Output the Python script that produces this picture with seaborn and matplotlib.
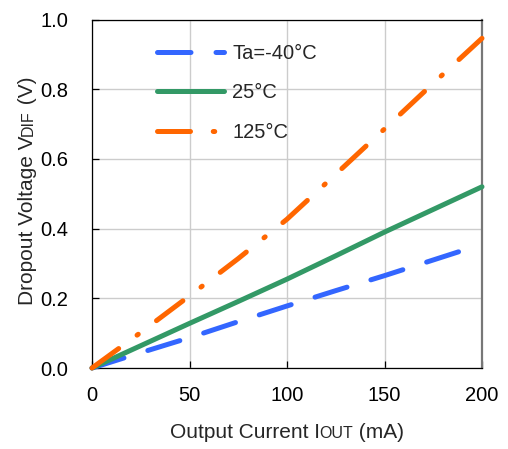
import numpy as np
import pandas as pd
import matplotlib
matplotlib.use("Agg")
import matplotlib.pyplot as plt
import seaborn as sns

# ---- data ----
current_ma = [0, 25, 50, 75, 100, 125, 150, 175, 200]
v_m40 = [0, 0.044, 0.087, 0.133, 0.178, 0.222, 0.265, 0.310, 0.355]
v_25 = [0, 0.064, 0.128, 0.191, 0.255, 0.322, 0.390, 0.455, 0.520]
v_125 = [0, 0.102, 0.207, 0.314, 0.427, 0.556, 0.686, 0.817, 0.946]
series_labels = ["Ta=-40°C", "25°C", "125°C"]
x_ticks = [0, 50, 100, 150, 200]
y_ticks = [0.0, 0.2, 0.4, 0.6, 0.8, 1.0]

sns.set_style("white")
plt.rcParams["font.family"] = ["Liberation Sans", "DejaVu Sans"]

W, H = 508, 449
fig = plt.figure(figsize=(W / 100, H / 100), dpi=100)
ax = fig.add_axes([92 / W, (H - 368) / H, (482 - 92) / W, (368 - 19.5) / H])

lw = 3.6
colors = ["#3366ff", "#339966", "#ff6600"]
styles = [(0, (6.7, 5.0)), "-", (0, (6.6, 4.55, 0.3, 4.55))]
for vals, lab, col, ls in zip([v_m40, v_25, v_125], series_labels, colors, styles):
    df = pd.DataFrame({"I": current_ma, "V": vals})
    sns.lineplot(data=df, x="I", y="V", ax=ax, color=col, linewidth=lw,
                 linestyle=ls, label=lab, dash_capstyle="round",
                 solid_capstyle="round", clip_on=False, zorder=3)

ax.set_xlim(0, 200)
ax.set_ylim(0, 1.0)
ax.set_xticks(x_ticks)
ax.set_yticks(y_ticks)
ax.set_yticklabels([f"{v:.1f}" for v in y_ticks])
ax.set_xticklabels([str(v) for v in x_ticks])
ax.set_xlabel("")
ax.set_ylabel("")
ax.set_axisbelow(True)
ax.grid(True, color="#cccccc", linewidth=1.0)
for s in ["left", "top", "bottom"]:
    ax.spines[s].set_color("black")
    ax.spines[s].set_linewidth(0.9)
    ax.spines[s].set_visible(True)
ax.spines["right"].set_visible(True)
ax.spines["right"].set_color("#777777")
ax.spines["right"].set_linewidth(1.6)
ax.tick_params(axis="both", direction="in", length=5, width=0.9,
               colors="black", labelsize=14.5, left=True, bottom=True)
ax.tick_params(axis="y", pad=17)
ax.tick_params(axis="x", pad=13)

handles, labels = ax.get_legend_handles_labels()
leg = ax.legend(handles, labels, loc="upper left", bbox_to_anchor=(0.167, 0.93),
                borderaxespad=0, borderpad=0, frameon=False, fontsize=14.5,
                handlelength=3.3, handletextpad=0.42, labelspacing=1.02)

# ---- composed axis labels with small-cap subscripts ----
fig.canvas.draw()
r = fig.canvas.get_renderer()


def compose(pieces, x0, y0, rotation):
    """pieces: list of (text, size). Place pieces along a shared baseline (pixels)."""
    pos = 0.0
    arts = []
    for txt, size in pieces:
        if rotation == 0:
            t = fig.text(x0 + pos, y0, txt, fontsize=size, ha="left", va="baseline",
                         transform=None)
            ext = t.get_window_extent(r)
            pos += ext.width
        else:
            t = fig.text(x0, y0 + pos, txt, fontsize=size, ha="left", va="baseline",
                         rotation=90, rotation_mode="anchor", transform=None)
            ext = t.get_window_extent(r)
            pos += ext.height
        arts.append(t)
    return arts, pos


def measure(pieces, rotation):
    arts, total = compose(pieces, 0, 0, rotation)
    for a in arts:
        a.remove()
    return total


xl = [("Output Current I", 15), ("OUT", 11.5), (" (mA)", 15)]
yl = [("Dropout Voltage V", 15), ("DIF", 11.5), (" (V)", 15)]

tw = measure(xl, 0)
compose(xl, 287 - tw / 2, H - 438, 0)
th = measure(yl, 90)
compose(yl, 33, (H - 191) - th / 2, 90)

fig.savefig("out.png", dpi=100)
